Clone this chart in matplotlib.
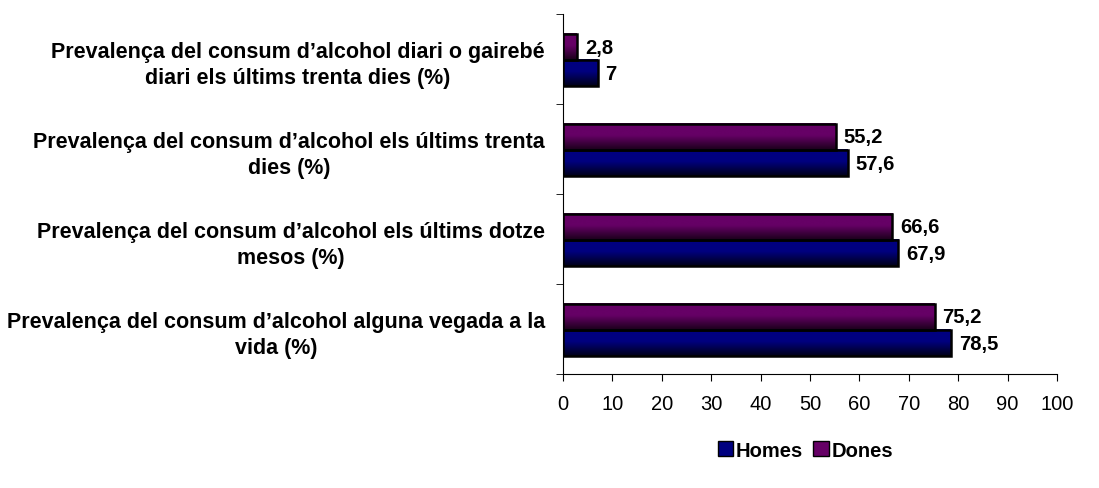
import numpy as np
import matplotlib.pyplot as plt
from matplotlib.colors import LinearSegmentedColormap
from matplotlib.patches import Rectangle, Patch

plt.rcParams['font.family'] = ['Liberation Sans', 'DejaVu Sans']

# bottom to top
categories = [
    "Prevalença del consum d\u2019alcohol alguna vegada a la\nvida (%)",
    "Prevalença del consum d\u2019alcohol els últims dotze\nmesos (%)",
    "Prevalença del consum d\u2019alcohol els últims trenta\ndies (%)",
    "Prevalença del consum d\u2019alcohol diari o gairebé\ndiari els últims trenta dies (%)",
]
homes = [78.5, 67.9, 57.6, 7]
dones = [75.2, 66.6, 55.2, 2.8]
xticks = list(range(0, 101, 10))

col_homes = '#000080'
col_dones = '#660066'
dark_homes = '#000018'
dark_dones = '#1a001a'


def fmt(v):
    s = f"{v:g}"
    return s.replace('.', ',')


def grad_bar(ax, x, y, h, color, dark):
    # vertical gradient: flat colour on top half, darkening towards bottom
    cmap = LinearSegmentedColormap.from_list('g', [(0, dark), (0.55, color), (1, color)])
    grad = np.linspace(0, 1, 64).reshape(-1, 1)
    ax.imshow(grad, cmap=cmap, aspect='auto', origin='lower',
              extent=[0, x, y - h / 2, y + h / 2], zorder=2, interpolation='bicubic')
    ax.add_patch(Rectangle((0, y - h / 2), x, h, fill=False,
                           edgecolor='black', lw=1.8, zorder=3))


fig = plt.figure(figsize=(10.99, 4.89), dpi=100)
ax = fig.add_axes([0.5123, 0.233, 0.4495, 0.736])

h = 0.29
pos = np.arange(len(categories))
for i in pos:
    grad_bar(ax, dones[i], i + h / 2 - 0.01, h, col_dones, dark_dones)
    grad_bar(ax, homes[i], i - h / 2 - 0.01, h, col_homes, dark_homes)
    ax.text(dones[i] + 1.6, i + h / 2 - 0.01, fmt(dones[i]), va='center', ha='left',
            fontsize=14.5, fontweight='bold')
    ax.text(homes[i] + 1.6, i - h / 2 - 0.01, fmt(homes[i]), va='center', ha='left',
            fontsize=14.5, fontweight='bold')

ax.set_xlim(0, 100)
ax.set_ylim(-0.5, len(categories) - 0.5)
ax.set_xticks(xticks)
ax.set_xticklabels([str(t) for t in xticks], fontsize=14.5)
ax.set_yticks(pos)
ax.set_yticklabels(categories, fontsize=15.5, fontweight='bold', multialignment='center',
                   linespacing=1.35)
ax.set_yticks(np.arange(-0.5, len(categories)), minor=True)
ax.tick_params(axis='y', which='major', length=0, pad=13)
ax.tick_params(axis='y', which='minor', length=5, direction='out')
ax.tick_params(axis='x', length=5, direction='out', pad=9)
for s in ['top', 'right']:
    ax.spines[s].set_visible(False)

handles = [Patch(facecolor=col_homes, edgecolor='black'),
           Patch(facecolor=col_dones, edgecolor='black')]
fig.legend(handles, ['Homes', 'Dones'], loc='center', bbox_to_anchor=(0.733, 0.077),
           ncol=2, frameon=False, handlelength=0.75, handleheight=0.75,
           handletextpad=0.15, columnspacing=0.5,
           prop={'weight': 'bold', 'size': 14.5})

fig.savefig('out.png', dpi=100)
